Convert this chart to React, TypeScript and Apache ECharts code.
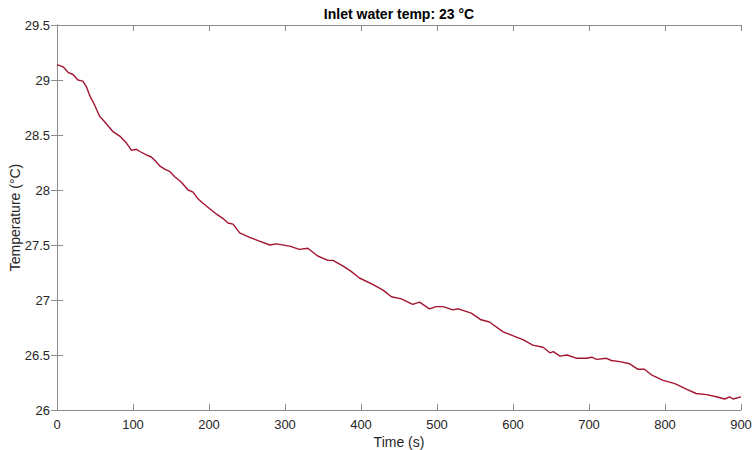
import React, { useEffect, useRef } from "react";
import * as echarts from "echarts";

const titleText = "Inlet water temp: 23 °C";
const xName = "Time (s)";
const yName = "Temperature (°C)";

const times = [
  0, 8, 14.5, 21, 27.6, 34, 38.6, 43, 49.6, 56, 62.7, 73.7, 82.5, 91, 98, 104.5,
  109, 117.6, 124, 128.6, 135, 141.7, 148, 154.9, 163.7, 172.4, 179, 185.5, 192,
  201, 210, 218.5, 225, 231.6, 240.4, 253.5, 264.5, 280, 288.7, 306, 319, 330,
  343, 356.6, 363, 376, 387, 398, 416, 429, 440, 453, 468, 477, 490, 499, 508,
  521, 528, 545, 558, 569, 587, 602, 613, 626, 639.5, 648.6, 653, 662, 671, 684,
  697, 703.6, 710, 723, 729.5, 740.4, 753.5, 764.5, 773, 782, 797.6, 813, 828,
  841, 854.5, 867.6, 878.5, 885, 889.5, 900,
];

const temps = [
  29.14, 29.12, 29.07, 29.05, 29.0, 28.99, 28.94, 28.86, 28.77, 28.67, 28.62,
  28.53, 28.49, 28.43, 28.36, 28.37, 28.35, 28.32, 28.3, 28.27, 28.22, 28.19,
  28.17, 28.12, 28.07, 28.0, 27.98, 27.92, 27.88, 27.83, 27.78, 27.74, 27.7,
  27.69, 27.61, 27.57, 27.54, 27.5, 27.51, 27.49, 27.46, 27.47, 27.4, 27.36,
  27.36, 27.31, 27.26, 27.2, 27.14, 27.09, 27.03, 27.01, 26.96, 26.98, 26.92,
  26.94, 26.94, 26.91, 26.92, 26.88, 26.82, 26.8, 26.71, 26.67, 26.64, 26.59,
  26.57, 26.52, 26.53, 26.49, 26.5, 26.47, 26.47, 26.48, 26.46, 26.47, 26.45,
  26.44, 26.42, 26.37, 26.37, 26.32, 26.27, 26.24, 26.19, 26.15, 26.14, 26.12,
  26.1, 26.12, 26.1, 26.12,
];

const FONT = "'Liberation Sans', Arial, Helvetica, sans-serif";
const AXIS_COLOR = "#8c8c8c";
const TEXT_COLOR = "#262626";

export default function App() {
  const ref = useRef<HTMLDivElement>(null);

  useEffect(() => {
    if (!ref.current) return;
    const chart = echarts.init(ref.current, undefined, { renderer: "svg" });
    const data = times.map((t, i) => [t, temps[i]]);
    const axisLine = { show: true, lineStyle: { color: AXIS_COLOR, width: 1 } };
    const axisTick = { show: true, inside: true, length: 6, lineStyle: { color: AXIS_COLOR } };
    chart.setOption({
      animation: false,
      backgroundColor: "#ffffff",
      textStyle: { fontFamily: FONT },
      grid: {
        left: 57,
        right: 11,
        top: 25,
        bottom: 40,
        containLabel: false,
        outerBoundsMode: "none",
      },
      graphic: [
        {
          type: "text",
          x: 399,
          y: 7,
          style: {
            text: titleText,
            align: "center",
            fontFamily: FONT,
            fontWeight: "bold",
            fontSize: 14,
            fill: "#000000",
          },
        },
      ],
      xAxis: [
        {
          type: "value",
          min: 0,
          max: 900,
          interval: 100,
          name: xName,
          nameLocation: "middle",
          nameGap: 25,
          nameMoveOverlap: false,
          nameTextStyle: { fontFamily: FONT, fontSize: 14, color: TEXT_COLOR },
          axisLine,
          axisTick,
          axisLabel: { fontFamily: FONT, fontSize: 13, color: TEXT_COLOR, margin: 8 },
          splitLine: { show: false },
        },
        {
          type: "value",
          position: "top",
          min: 0,
          max: 900,
          interval: 100,
          axisLine,
          axisTick,
          axisLabel: { show: false },
          splitLine: { show: false },
        },
      ],
      yAxis: [
        {
          type: "value",
          min: 26,
          max: 29.5,
          interval: 0.5,
          name: yName,
          nameLocation: "middle",
          nameGap: 35,
          nameMoveOverlap: false,
          nameTextStyle: { fontFamily: FONT, fontSize: 14, color: TEXT_COLOR },
          axisLine,
          axisTick,
          axisLabel: { fontFamily: FONT, fontSize: 13, color: TEXT_COLOR, margin: 7 },
          splitLine: { show: false },
        },
        {
          type: "value",
          position: "right",
          min: 26,
          max: 29.5,
          interval: 0.5,
          axisLine,
          axisTick,
          axisLabel: { show: false },
          splitLine: { show: false },
        },
      ],
      series: [
        {
          type: "line",
          data,
          xAxisIndex: 0,
          yAxisIndex: 0,
          showSymbol: false,
          smooth: false,
          lineStyle: { color: "#A2142F", width: 1.4 },
          itemStyle: { color: "#A2142F" },
        },
      ],
    });
    return () => chart.dispose();
  }, []);

  return <div ref={ref} style={{ width: 752, height: 450, position: "absolute", left: 0, top: 0 }} />;
}
